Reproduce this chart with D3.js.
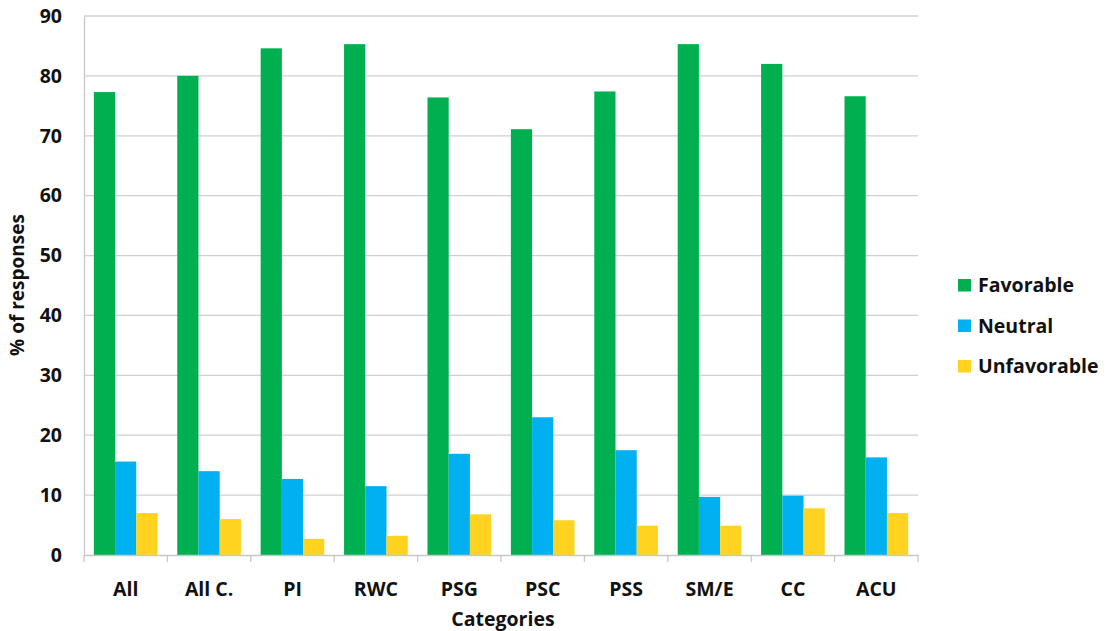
<!DOCTYPE html>
<html><head><meta charset="utf-8">
<script src="https://cdn.jsdelivr.net/npm/d3@7"></script>
<style>body{margin:0;background:#fff;}svg{display:block;font-family:"Open Sans",Lato,sans-serif;font-weight:bold;}</style>
</head><body>
<svg id="c" width="1111" height="631"></svg>
<script>
const categories = ["All","All C.","PI","RWC","PSG","PSC","PSS","SM/E","CC","ACU"];
const seriesNames = ["Favorable","Neutral","Unfavorable"];
const favorable   = [77.3, 80.0, 84.6, 85.3, 76.4, 71.1, 77.4, 85.3, 82.0, 76.6];
const neutral     = [15.6, 14.0, 12.7, 11.5, 16.9, 23.0, 17.5, 9.7, 9.9, 16.3];
const unfavorable = [7.0, 6.0, 2.7, 3.2, 6.8, 5.8, 4.9, 4.9, 7.8, 7.0];
const yTicks = [0,10,20,30,40,50,60,70,80,90];
const colors = ["#00B050","#00B0F0","#FFD320"];

const FS = 19.5;
const svg = d3.select("#c");
const m = {l:84, r:1111-918, t:16, b:631-555};
const W = 918-84, H = 555-16;
const g = svg.append("g").attr("transform",`translate(${m.l},${m.t})`);

const x = d3.scaleBand().domain(categories).range([0,W]).paddingInner(0.237).paddingOuter(0.118);
const xb = d3.scaleBand().domain(categories).range([0,W]);
const xs = d3.scaleBand().domain(seriesNames).range([0,x.bandwidth()]);
const y = d3.scaleLinear().domain([0,90]).range([H,0]);

// gridlines
g.append("g").selectAll("line").data(yTicks.filter(d=>d>0)).join("line")
  .attr("x1",0).attr("x2",W).attr("y1",d=>y(d)).attr("y2",d=>y(d))
  .attr("stroke","#D0D0D0").attr("stroke-width",1.3);

// bars
const data = categories.map((c,i)=>({c, vals:[favorable[i],neutral[i],unfavorable[i]]}));
const grp = g.append("g").selectAll("g").data(data).join("g")
  .attr("transform",d=>`translate(${x(d.c)},0)`);
grp.selectAll("rect").data(d=>d.vals.map((v,j)=>({v,s:seriesNames[j],j}))).join("rect")
  .attr("x",d=>xs(d.s)).attr("width",xs.bandwidth())
  .attr("y",d=>y(d.v)).attr("height",d=>H-y(d.v))
  .attr("fill",d=>colors[d.j]);

// y axis
const ya = g.append("g").call(d3.axisLeft(y).tickValues(yTicks).tickSize(0).tickPadding(22));
ya.select(".domain").attr("stroke","#C8C8C8").attr("stroke-width",1.3);
ya.selectAll("text").attr("font-size",FS).attr("font-family","'Open Sans',sans-serif").attr("font-weight","bold").attr("fill","#111");

// x axis
const xa = g.append("g").attr("transform",`translate(0,${H})`).call(d3.axisBottom(xb).tickSize(0).tickPadding(27));
xa.select(".domain").attr("stroke","#C8C8C8").attr("stroke-width",1.3);
xa.selectAll("text").attr("font-size",FS).attr("font-family","'Open Sans',sans-serif").attr("font-weight","bold").attr("fill","#111");
// boundary tick marks
xa.append("g").selectAll("line").data(d3.range(categories.length+1)).join("line")
  .attr("x1",i=>i*xb.step()).attr("x2",i=>i*xb.step()).attr("y1",0).attr("y2",7)
  .attr("stroke","#C8C8C8").attr("stroke-width",1.3);

// axis titles
svg.append("text").attr("x",503).attr("y",626).attr("text-anchor","middle")
  .attr("font-size",FS).attr("fill","#111").text("Categories");
svg.append("text").attr("transform","translate(24,285) rotate(-90)").attr("text-anchor","middle")
  .attr("font-size",19).attr("fill","#111").text("% of responses");

// legend
const lg = svg.append("g").attr("transform","translate(958,279)");
const li = lg.selectAll("g").data(seriesNames).join("g").attr("transform",(d,i)=>`translate(0,${i*40.5})`);
li.append("rect").attr("width",13).attr("height",12.5).attr("fill",(d,i)=>colors[i]);
li.append("text").attr("x",20).attr("y",13).attr("font-size",FS).attr("fill","#111").text(d=>d);
</script>
</body></html>
